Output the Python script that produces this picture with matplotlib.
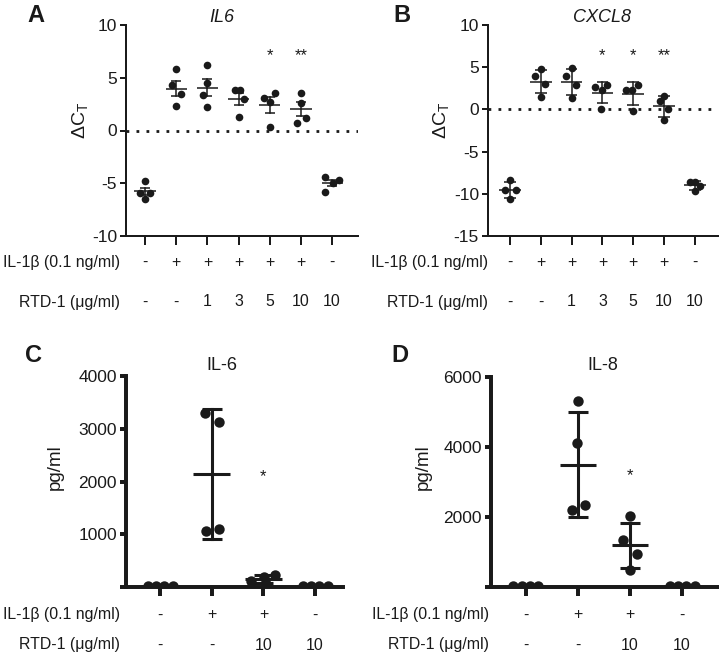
import numpy as np
import matplotlib
matplotlib.use("Agg")
import matplotlib.pyplot as plt

plt.rcParams["font.family"] = ["Liberation Sans", "DejaVu Sans"]
plt.rcParams["mathtext.fontset"] = "custom"
plt.rcParams["mathtext.rm"] = "Liberation Sans"
plt.rcParams["mathtext.it"] = "Liberation Sans:italic"
plt.rcParams["axes.unicode_minus"] = False

# ---- data ----
il6_dct = [
    [-4.8, -5.9, -5.9, -6.5],
    [5.8, 4.3, 3.5, 2.3],
    [6.2, 4.5, 3.4, 2.2],
    [3.8, 3.8, 3.0, 1.3],
    [3.1, 3.6, 2.7, 0.3],
    [3.6, 2.6, 1.2, 0.7],
    [-4.4, -4.7, -5.0, -5.8],
]
cxcl8_dct = [
    [-8.4, -9.6, -9.6, -10.6],
    [4.8, 3.9, 3.0, 1.5],
    [4.9, 3.9, 2.9, 1.3],
    [2.6, 2.9, 2.3, 0.1],
    [2.3, 2.3, 2.9, -0.15],
    [1.6, 1.0, 0.1, -1.25],
    [-8.6, -8.6, -9.1, -9.7],
]
il6_pg = [
    [25, 25, 25, 25],
    [3300, 3120, 1060, 1100],
    [230, 190, 120, 60],
    [15, 15, 15, 15],
]
il8_pg = [
    [30, 30, 30, 30],
    [5320, 4110, 2210, 2330],
    [2020, 1330, 940, 500],
    [30, 30, 30, 30],
]
il1b_7 = ["-", "+", "+", "+", "+", "+", "-"]
rtd_7 = ["-", "-", "1", "3", "5", "10", "10"]
il1b_4 = ["-", "+", "+", "-"]
rtd_4 = ["-", "-", "10", "10"]
stars_a = {4: "*", 5: "**"}
stars_b = {3: "*", 4: "*", 5: "**"}
stars_c = {2: "*"}
stars_d = {2: "*"}

# ---- horizontal scatter of the dots (layout only) ----
jit_a = [[0, -0.15, 0.15, 0], [0, -0.13, 0.15, 0], [0, 0, -0.13, 0],
         [-0.12, 0.06, 0.16, 0], [-0.2, 0.17, 0, 0], [0, 0, 0.15, -0.14],
         [-0.23, 0.23, 0.04, -0.23]]
jit_b = [[0, -0.16, 0.2, 0], [0, -0.2, 0.15, 0], [0, -0.18, 0.15, 0],
         [-0.24, 0.14, -0.02, -0.04], [-0.24, -0.05, 0.14, 0], [0, -0.13, 0.14, 0],
         [-0.16, 0, 0.16, 0]]
jit_c = [[-0.24, -0.08, 0.08, 0.24], [-0.13, 0.14, -0.12, 0.14],
         [0.22, 0.02, -0.25, 0.05], [-0.24, -0.08, 0.08, 0.24]]
jit_d = [[-0.24, -0.08, 0.08, 0.24], [0, -0.02, -0.12, 0.13],
         [0, -0.13, 0.13, 0], [-0.24, -0.08, 0.08, 0.24]]

W, H = 719, 657
INK = "#1a1a1a"
fig = plt.figure(figsize=(W / 100, H / 100), dpi=100)


def px_axes(left, top, right, bottom):
    return fig.add_axes([left / W, 1 - bottom / H, (right - left) / W, (bottom - top) / H])


def ftext(x, y, s, **kw):
    kw.setdefault("color", INK)
    fig.text(x / W, 1 - y / H, s, **kw)


def panel(ax, groups, jit, err, xlim, ylim, yticks, lw, ms, mean_w, cap_w, stars, star_y):
    for i, vals in enumerate(groups):
        vals = np.array(vals, dtype=float)
        xs = i + np.array(jit[i])
        ax.plot(xs, vals, "o", color=INK, ms=ms, mec="none", zorder=3)
        m = vals.mean()
        sd = vals.std(ddof=1)
        e = sd / np.sqrt(len(vals)) if err == "sem" else sd
        ax.plot([i - mean_w, i + mean_w], [m, m], color=INK, lw=lw, zorder=4,
                solid_capstyle="butt")
        ax.plot([i, i], [m - e, m + e], color=INK, lw=lw, zorder=4)
        for yy in (m - e, m + e):
            ax.plot([i - cap_w, i + cap_w], [yy, yy], color=INK, lw=lw, zorder=4,
                    solid_capstyle="butt")
    for i, s in stars.items():
        ax.text(i, star_y, s, ha="center", va="center", fontsize=12, color=INK)
    ax.set_xlim(*xlim)
    ax.set_ylim(*ylim)
    ax.set_yticks(yticks)
    ax.set_xticks(range(len(groups)))
    ax.set_xticklabels([])
    for side in ("top", "right"):
        ax.spines[side].set_visible(False)
    for side in ("left", "bottom"):
        ax.spines[side].set_linewidth(lw * 1.3)
        ax.spines[side].set_color(INK)
    ax.tick_params(axis="y", direction="out", length=4.5, width=lw * 1.3, labelsize=12.5,
                   pad=2, colors=INK)
    ax.tick_params(axis="x", direction="out", length=6.5, width=lw * 1.3, colors=INK)
    ax.patch.set_alpha(0)


# Panel A
ax_a = px_axes(126, 25, 358, 236)
panel(ax_a, il6_dct, jit_a, "sem", (-0.61, 6.83), (-10, 10), [-10, -5, 0, 5, 10],
      1.1, 5.5, 0.34, 0.16, stars_a, 7.1)
ax_a.axhline(0, color=INK, lw=2, dashes=(1, 2.6), zorder=1)

# Panel B
ax_b = px_axes(488, 25, 718, 236)
panel(ax_b, cxcl8_dct, jit_b, "sd", (-0.71, 6.75), (-15, 10), [-15, -10, -5, 0, 5, 10],
      1.1, 5.5, 0.35, 0.19, stars_b, 6.4)
ax_b.axhline(0, color=INK, lw=2, dashes=(1, 2.6), zorder=1)

# Panel C
ax_c = px_axes(126, 376, 343, 587)
panel(ax_c, il6_pg, jit_c, "sd", (-0.66, 3.54), (0, 4000), [0, 1000, 2000, 3000, 4000],
      2.2, 7.5, 0.36, 0.19, stars_c, 2100)
ax_c.set_yticklabels(["", "1000", "2000", "3000", "4000"])

# Panel D
ax_d = px_axes(491, 377, 718, 587)
panel(ax_d, il8_pg, jit_d, "sd", (-0.67, 3.69), (0, 6000), [0, 2000, 4000, 6000],
      2.2, 7.5, 0.35, 0.19, stars_d, 3180)
ax_d.set_yticklabels(["", "2000", "4000", "6000"])

# condition rows under each panel
rows = [
    (ax_a, 120, 262, 302, il1b_7, rtd_7),
    (ax_b, 488, 262, 302, il1b_7, rtd_7),
    (ax_c, 120, 615, 645, il1b_4, rtd_4),
    (ax_d, 489, 615, 645, il1b_4, rtd_4),
]
for ax, xr, y1, y2, r1, r2 in rows:
    ftext(xr, y1, "IL-1β (0.1 ng/ml)", ha="right", va="center", fontsize=11.4)
    ftext(xr, y2, "RTD-1 (μg/ml)", ha="right", va="center", fontsize=11.4)
    for i, (a, b) in enumerate(zip(r1, r2)):
        xp = ax.transData.transform((i, 0))[0] / fig.dpi * 100
        ftext(xp, y1, a, ha="center", va="center", fontsize=11.4)
        ftext(xp, y2, b, ha="center", va="center", fontsize=11.4)

# titles, axis labels, panel letters
ftext(222, 17, "IL6", ha="center", va="center", fontsize=13, style="italic")
ftext(602, 17, "CXCL8", ha="center", va="center", fontsize=13, style="italic")
ftext(222, 365, "IL-6", ha="center", va="center", fontsize=13)
ftext(603, 366, "IL-8", ha="center", va="center", fontsize=13)
ftext(80, 120, r"ΔC$_\mathrm{T}$", ha="center", va="center", fontsize=14, rotation=90)
ftext(441, 120, r"ΔC$_\mathrm{T}$", ha="center", va="center", fontsize=14, rotation=90)
ftext(55, 467, "pg/ml", ha="center", va="center", fontsize=13.5, rotation=90)
ftext(423, 467, "pg/ml", ha="center", va="center", fontsize=13.5, rotation=90)
for lx, ly, s in [(36, 15, "A"), (402, 15, "B"), (33, 355, "C"), (400, 355, "D")]:
    ftext(lx, ly, s, ha="center", va="center", fontsize=17, fontweight="bold")

fig.savefig("out.png", dpi=100)
